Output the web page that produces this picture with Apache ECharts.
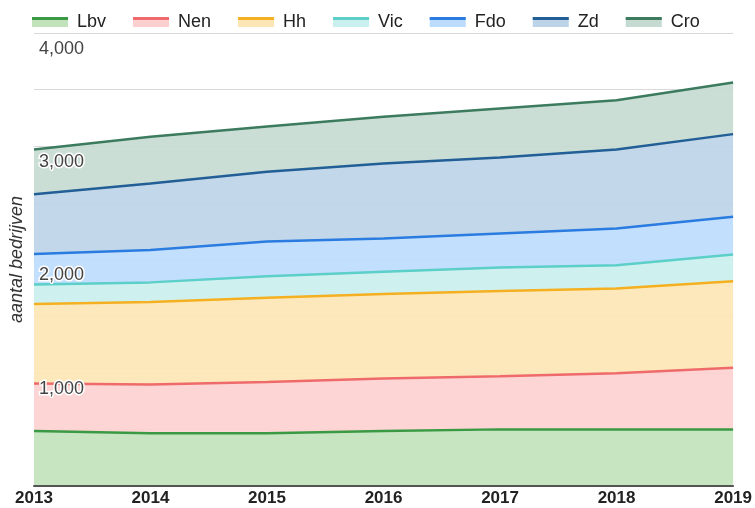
<!DOCTYPE html>
<html>
<head>
<meta charset="utf-8">
<script src="https://cdn.jsdelivr.net/npm/echarts@6/dist/echarts.min.js"></script>
<style>html,body{margin:0;padding:0;background:#fff}#c{width:755px;height:508px}</style>
</head>
<body>
<div id="c"></div>
<script>
const years = ['2013','2014','2015','2016','2017','2018','2019'];
const seriesNames = ['Lbv','Nen','Hh','Vic','Fdo','Zd','Cro'];
const lbv = [485,465,465,485,500,500,500];
const nen = [421,432,453,465,470,495,544];
const hh  = [700,727,744,745,751,750,765];
const vic = [174,174,190,196,209,205,236];
const fdo = [268,285,306,295,300,324,332];
const zd  = [529,588,617,662,671,698,730];
const cro = [395,412,400,412,432,435,456];
const yTicks = [1000,2000,3000,4000];

const lineColors = ['#3a9a44','#ef6b6b','#f4b020','#5ccfc8','#2b7ce0','#225f96','#3c7b5e'];
const fillColors = ['#c2e2bb','#fdd0d0','#fde6b5','#c9f0ee','#bcdcfe','#bcd3e8','#c5dad1'];
const values = [lbv,nen,hh,vic,fdo,zd,cro];

const series = seriesNames.map((n,i)=>({
  name:n, type:'line', stack:'total', data:values[i], yAxisIndex:0,
  symbol:'none', lineStyle:{width:2.5,color:lineColors[i]},
  itemStyle:{color:lineColors[i]},
  areaStyle:{color:fillColors[i],opacity:0.9},
  emphasis:{disabled:true}
}));

const FONT = 'Liberation Sans, Arial, sans-serif';
const legendBase = {
  left:32, padding:0, icon:'rect', itemWidth:36, itemGap:27,
  textStyle:{fontSize:18,fontFamily:FONT,padding:[0,0,0,4]}
};

const chart = echarts.init(document.getElementById('c'));
chart.setOption({
  animation:false,
  legend:[
    Object.assign({},legendBase,{top:13,itemHeight:10,
      textStyle:Object.assign({},legendBase.textStyle,{color:'#222'}),
      data:seriesNames.map((n,i)=>({name:n,itemStyle:{color:fillColors[i]}}))}),
    Object.assign({},legendBase,{top:9.5,itemHeight:3,z:10,
      textStyle:Object.assign({},legendBase.textStyle,{color:'rgba(0,0,0,0)'}),
      data:seriesNames.map((n,i)=>({name:n,itemStyle:{color:lineColors[i]}}))})
  ],
  grid:{left:33,right:20,top:33,bottom:22,containLabel:false},
  xAxis:{
    type:'category', data:years, boundaryGap:false, z:5,
    axisLine:{lineStyle:{color:'#555',width:2}},
    axisTick:{show:false},
    axisLabel:{interval:0,color:'#222',fontSize:17,fontWeight:'bold',margin:4,fontFamily:FONT},
    splitLine:{show:false}
  },
  yAxis:[{
    type:'value', min:0, max:4000, interval:500,
    name:'aantal bedrijven', nameLocation:'middle', nameGap:8,
    nameTextStyle:{fontStyle:'italic',fontSize:18,color:'#333',fontFamily:FONT},
    axisLine:{show:false}, axisTick:{show:false},
    axisLabel:{show:false},
    splitLine:{lineStyle:{color:'#d9d9d9',width:1}}
  },{
    type:'value', min:0, max:4000, interval:500, position:'left', offset:0, z:6,
    axisLine:{show:false}, axisTick:{show:false}, splitLine:{show:false},
    axisLabel:{inside:true,margin:5,verticalAlign:'top',padding:[7,0,0,0],
      color:'#444',fontSize:18,fontFamily:FONT,
      textBorderColor:'#fff',textBorderWidth:3,
      formatter:v=>yTicks.includes(v)?v.toLocaleString('en-US'):''}
  }],
  series:series
});
</script>
</body>
</html>
